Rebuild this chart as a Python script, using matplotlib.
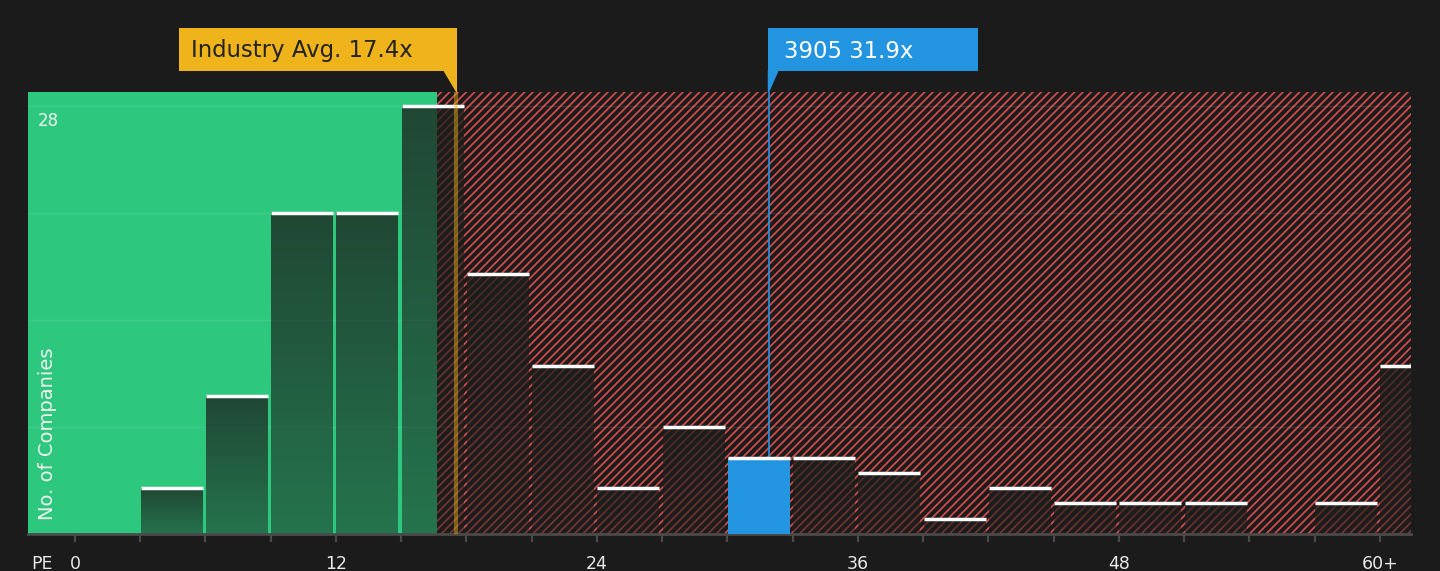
import numpy as np
import matplotlib
matplotlib.use("Agg")
import matplotlib.pyplot as plt
import matplotlib.transforms as mtransforms
from matplotlib.patches import Rectangle, Polygon

# data
bin_left = [3, 6, 9, 12, 15, 18, 21, 24, 27, 30, 33, 36, 39, 42, 45, 48, 51, 54, 57, 60]
counts = [3, 9, 21, 21, 28, 17, 11, 3, 7, 5, 5, 4, 1, 3, 2, 2, 2, 0, 2, 11]
bin_width = 3
company_name = "3905"
company_pe = 31.9
industry_avg = 17.4
industry_line_x = 17.52   # where the marker line sits in the picture
green_limit = 16.65
tick_pos = [0, 12, 24, 36, 48, 60]
tick_labels = ["0", "12", "24", "36", "48", "60+"]
grid_vals = [7, 14, 21, 28]

bg = "#1b1b1b"
green = "#2dc87e"
red = "#cf4b4b"
blue = "#2394e0"
yellow = "#efb31b"

plt.rcParams["hatch.linewidth"] = 1.3
plt.rcParams["hatch.color"] = red

fig = plt.figure(figsize=(14.4, 5.71), dpi=100, facecolor=bg)
ax = fig.add_axes([28 / 1440, 1 - 534 / 571, (1411 - 28) / 1440, (534 - 92) / 571])
ax.set_facecolor(bg)
xmin, xmax = -2.16, 61.43
ymax = 28.9

# background regions
ax.add_patch(Rectangle((xmin, 0), green_limit - xmin, ymax, facecolor=green, edgecolor="none", zorder=0))
ax.add_patch(Rectangle((green_limit, 0), xmax - green_limit, ymax, facecolor=bg, edgecolor=red,
                       hatch="////", linewidth=0, zorder=0))

for g in grid_vals:
    ax.axhline(g, color="white", alpha=0.09, lw=1, zorder=1)

# gradient bars
grad = np.zeros((64, 1, 4))
grad[:, 0, 0] = 0.11
grad[:, 0, 1] = 0.12
grad[:, 0, 2] = 0.11
grad[:, 0, 3] = np.linspace(0.5, 0.76, 64)
pad_l, pad_r = 0.02, 0.13
for x0, c in zip(bin_left, counts):
    if c == 0:
        continue
    l, r = x0 + pad_l, x0 + bin_width - pad_r
    if x0 <= company_pe < x0 + bin_width:
        ax.bar(l, c, width=r - l, align="edge", color=blue, zorder=3)
    else:
        ax.imshow(grad, extent=(l, r, 0, c), origin="lower",
                  aspect="auto", interpolation="bilinear", zorder=2)
    ax.hlines(c, l, r, color="white", lw=2.5, zorder=4)
ax.set_xlim(xmin, xmax)
ax.set_ylim(0, ymax)

# reference lines
ax.axvline(industry_line_x, color=yellow, alpha=0.45, lw=3, zorder=5)
ax.axvline(company_pe, color=blue, lw=1.2, zorder=2.5)

# axes styling
for s in ["left", "right", "top"]:
    ax.spines[s].set_visible(False)
ax.spines["bottom"].set_color("#4a4a4a")
ax.spines["bottom"].set_linewidth(2)
ax.set_yticks([])
ax.set_xticks(range(0, 61, 3))
ax.set_xticklabels([tick_labels[tick_pos.index(t)] if t in tick_pos else "" for t in range(0, 61, 3)])
ax.tick_params(axis="x", colors="#4a4a4a", length=6, width=1.5, labelcolor="#e8e8e8", labelsize=12.5, pad=9)
fig.text(42 / 1440, 1 - 564 / 571, "PE", color="#e8e8e8", fontsize=12.5, ha="center", va="center")

fig.text(38 / 1440, 1 - 121 / 571, "28", color="#f0f0f0", fontsize=12, ha="left", va="center")
fig.text(48 / 1440, 1 - 520 / 571, "No. of Companies", color="#f0f0f0", fontsize=14,
         rotation=90, ha="center", va="bottom")

# callout boxes
tr = mtransforms.blended_transform_factory(ax.transData, fig.transFigure)
px = 21.75  # pixels per PE unit
box_bot, box_top, ax_top = 1 - 71 / 571, 1 - 28 / 571, 1 - 92 / 571
text_y = 1 - 51 / 571

ya_right = industry_line_x + 1 / px
ya_left = ya_right - 278 / px
fig.patches.append(Rectangle((ya_left, box_bot), ya_right - ya_left, box_top - box_bot,
                             transform=tr, facecolor=yellow, edgecolor="none"))
fig.patches.append(Polygon([(ya_right - 14 / px, box_bot + 0.001), (ya_right, box_bot + 0.001),
                            (ya_right, ax_top), (industry_line_x, ax_top)],
                           transform=tr, facecolor=yellow, edgecolor="none"))
fig.text(ya_left + 12 / px, text_y, "Industry Avg. %.1fx" % industry_avg,
         transform=tr, color="#222222", fontsize=16.4, ha="left", va="center")

b_left = company_pe - 1 / px
b_right = b_left + 210 / px
fig.patches.append(Rectangle((b_left, box_bot), b_right - b_left, box_top - box_bot,
                             transform=tr, facecolor=blue, edgecolor="none"))
fig.patches.append(Polygon([(b_left, box_bot + 0.001), (b_left + 11 / px, box_bot + 0.001),
                            (company_pe + 0.5 / px, ax_top), (b_left, ax_top)],
                           transform=tr, facecolor=blue, edgecolor="none"))
fig.text(b_left + 16 / px, text_y, "%s %.1fx" % (company_name, company_pe),
         transform=tr, color="white", fontsize=16.4, ha="left", va="center")

fig.savefig("out.png", dpi=100, facecolor=bg)
